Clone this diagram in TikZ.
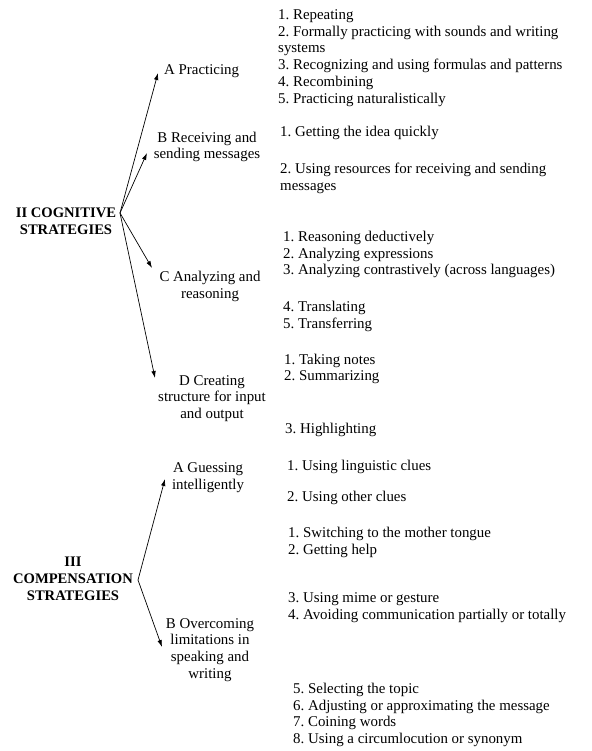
\documentclass[tikz,border=0pt]{standalone}
\usepackage{fontspec}
\setmainfont{Liberation Serif}
\usepackage{tikz}
\usetikzlibrary{arrows.meta,positioning,calc}
\frenchspacing

\begin{document}
\begin{tikzpicture}[
	x=1pt, y=-1pt,
	every node/.style={inner sep=0pt, font=\fontsize{14.9}{16.8}\selectfont},
	head/.style={align=center, font=\fontsize{14.6}{16.8}\selectfont\bfseries},
	branch/.style={align=center},
	item/.style={anchor=west, align=left},
	arr/.style={-{Latex[length=7pt,width=4.5pt]}, line width=0.7pt}
]
\useasboundingbox (0,0) rectangle (591,751);

% left column: headings and branches
\node[head] (cog) at (66,221) {II COGNITIVE\\STRATEGIES};
\node[item] (pracA) at (164,71) {A Practicing};
\node[branch] (recvB) at (207,147) {B Receiving and\\sending messages};
\node[branch] (anaC) at (210,286.5) {C Analyzing and\\reasoning};
\node[branch] (creD) at (212,398.5) {D Creating\\structure for input\\and output};

\node[head] (comp) at (73,579) {III\\COMPENSATION\\STRATEGIES};
\node[branch] (guessA) at (208,478) {A Guessing\\intelligently};
\node[branch] (overB) at (210,650) {B Overcoming\\limitations in\\speaking and\\writing};

% right column: strategy lists
\node[item] (pracList) at (278,58) {1. Repeating\\2. Formally practicing with sounds and writing\\systems\\3. Recognizing and using formulas and patterns\\4. Recombining\\5. Practicing naturalistically};
\node[item] (ideaItem) at (280,133) {1. Getting the idea quickly};
\node[item] (resItem) at (280,178) {2. Using resources for receiving and sending\\messages};
\node[item] (anaList) at (283,254.5) {1. Reasoning deductively\\2. Analyzing expressions\\3. Analyzing contrastively (across languages)};
\node[item] (transList) at (283,316.5) {4. Translating\\5. Transferring};
\node[item] (notesList) at (284,369) {1. Taking notes\\2. Summarizing};
\node[item] (highItem) at (285,430) {3. Highlighting};
\node[item] (lingItem) at (287,467) {1. Using linguistic clues};
\node[item] (otherItem) at (287,498) {2. Using other clues};
\node[item] (switchList) at (288,542.5) {1. Switching to the mother tongue\\2. Getting help};
\node[item] (mimeList) at (288,608) {3. Using mime or gesture\\4. Avoiding communication partially or totally};
\node[item] (topicList) at (293,715) {5. Selecting the topic\\6. Adjusting or approximating the message\\7. Coining words\\8. Using a circumlocution or synonym};

% fork points and arrow tips
\coordinate (cogfork) at (120,213);
\coordinate (tipA) at (158,73);
\coordinate (tipB) at (147,153);
\coordinate (tipC) at (152,268);
\coordinate (tipD) at (155,378);
\coordinate (compfork) at (138,580);
\coordinate (tipGA) at (165,479);
\coordinate (tipOB) at (162,647);

\draw[arr] (cogfork) -- (tipA);
\draw[arr] (cogfork) -- (tipB);
\draw[arr] (cogfork) -- (tipC);
\draw[arr] (cogfork) -- (tipD);
\draw[arr] (compfork) -- (tipGA);
\draw[arr] (compfork) -- (tipOB);
\end{tikzpicture}
\end{document}
